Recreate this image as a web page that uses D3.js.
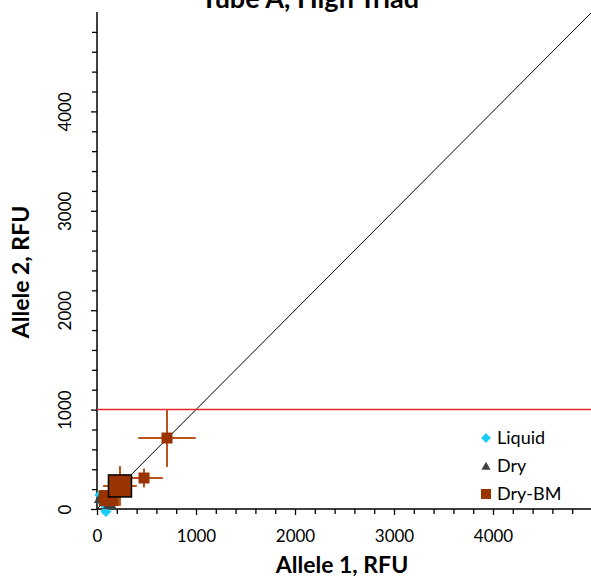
<!DOCTYPE html>
<html><head><meta charset="utf-8">
<script src="https://cdn.jsdelivr.net/npm/d3@7"></script>
<style>body{margin:0;background:#fff}svg{display:block}text{font-family:Lato,"Open Sans",sans-serif}</style>
</head><body>
<script>
// ---- data ----
const title = "Tube A, High Triad";
const xTitle = "Allele 1, RFU";
const yTitle = "Allele 2, RFU";
const majorTicks = [0, 1000, 2000, 3000, 4000];
const minorStep = 200;
const threshold = 1000;
const legendLabels = ["Liquid", "Dry", "Dry-BM"];
// Liquid: [allele1, allele2]
const liquid = [[30, 140], [100, 20], [60, 60], [90, -25]];
// Dry: [allele1, allele2]
const dry = [[20, 90], [150, 25], [110, 30]];
// Dry-BM: [allele1, allele2, err1, err2]
const dryBM = [[707, 714, 290, 290], [475, 312, 190, 95], [120, 110, 0, 0]];
// Dry-BM highlighted means: [allele1, allele2, err1, err2]
const dryBMMean = [[232, 232, 170, 200]];

const W = 591, H = 578;
const svg = d3.select("body").append("svg").attr("width", W).attr("height", H);
const x = d3.scaleLinear().domain([0, 5000]).range([97, 592]);
const y = d3.scaleLinear().domain([0, 5000]).range([509, 12]);
const minor = d3.range(0, 5000, minorStep).filter(v => !majorTicks.includes(v));

// axes
const gx = svg.append("g").attr("transform", `translate(0,${y(0)})`);
gx.append("g").call(d3.axisBottom(x).tickValues(minor).tickSize(5).tickSizeOuter(0).tickFormat(""));
gx.append("g").call(d3.axisBottom(x).tickValues(majorTicks).tickSize(6).tickSizeOuter(0).tickFormat(d3.format("d")));
const gy = svg.append("g").attr("transform", `translate(${x(0)},0)`);
gy.append("g").call(d3.axisLeft(y).tickValues(minor).tickSize(5).tickSizeOuter(0).tickFormat(""));
gy.append("g").call(d3.axisLeft(y).tickValues(majorTicks).tickSize(6).tickSizeOuter(0).tickFormat(d3.format("d")));
svg.selectAll(".domain").remove();
svg.selectAll(".tick line").attr("stroke", "#000").attr("stroke-width", 1.3);
gx.selectAll(".tick text").attr("font-size", 17).attr("fill", "#000").attr("y", 33).attr("dy", 0);
gy.selectAll(".tick text").attr("font-size", 17).attr("fill", "#000")
  .attr("transform", "rotate(-90)").attr("x", 0).attr("dy", 0)
  .attr("y", -26).attr("text-anchor", "middle");
svg.append("line").attr("x1", x(0)).attr("x2", 592).attr("y1", y(0)).attr("y2", y(0)).attr("stroke", "#000").attr("stroke-width", 1.5);
svg.append("line").attr("x1", x(0)).attr("x2", x(0)).attr("y1", y(0)).attr("y2", y(5000)).attr("stroke", "#000").attr("stroke-width", 1.5);

// reference lines
svg.append("line").attr("x1", x(0)).attr("y1", y(0)).attr("x2", x(5000)).attr("y2", y(5000))
  .attr("stroke", "#000").attr("stroke-width", 1);
svg.append("line").attr("x1", x(0)).attr("x2", x(5000)).attr("y1", y(threshold)).attr("y2", y(threshold))
  .attr("stroke", "#E8262A").attr("stroke-width", 1.5);

// markers
const diamond = d3.symbol().type(d3.symbolDiamond2).size(80);
const tri = d3.symbol().type(d3.symbolTriangle2).size(75);
svg.append("g").selectAll("path").data(liquid).join("path")
  .attr("d", diamond).attr("transform", d => `translate(${x(d[0])},${y(d[1])})`).attr("fill", "#19CFF5");
svg.append("g").selectAll("path").data(dry).join("path")
  .attr("d", tri).attr("transform", d => `translate(${x(d[0])},${y(d[1])})`).attr("fill", "#404040");

function errBars(data) {
  const g = svg.append("g").attr("stroke", "#B8531F").attr("stroke-width", 2);
  g.selectAll(".h").data(data.filter(d => d[2] > 0)).join("line").attr("class", "h")
    .attr("x1", d => x(d[0] - d[2])).attr("x2", d => x(d[0] + d[2])).attr("y1", d => y(d[1])).attr("y2", d => y(d[1]));
  g.selectAll(".v").data(data.filter(d => d[3] > 0)).join("line").attr("class", "v")
    .attr("x1", d => x(d[0])).attr("x2", d => x(d[0])).attr("y1", d => y(d[1] - d[3])).attr("y2", d => y(d[1] + d[3]));
}
errBars(dryBMMean);
errBars(dryBM);
const bmColor = "#993300";
svg.append("g").selectAll("rect").data(dryBM.slice(0, 2)).join("rect")
  .attr("x", d => x(d[0]) - 5.5).attr("y", d => y(d[1]) - 5.5).attr("width", 11).attr("height", 11).attr("fill", bmColor);
svg.append("g").selectAll("rect").data(dryBM.slice(2)).join("rect")
  .attr("x", d => x(d[0]) - 10).attr("y", d => y(d[1]) - 8).attr("width", 20).attr("height", 16).attr("fill", bmColor);
svg.append("g").selectAll("rect").data(dryBMMean).join("rect")
  .attr("x", d => x(d[0]) - 11.5).attr("y", d => y(d[1]) - 11).attr("width", 23).attr("height", 22)
  .attr("fill", bmColor).attr("stroke", "#000").attr("stroke-width", 1.5);

// legend
const lg = svg.append("g");
const ly = [438, 466, 494];
lg.append("path").attr("d", d3.symbol().type(d3.symbolDiamond2).size(62)).attr("transform", `translate(486,${ly[0]})`).attr("fill", "#19CFF5");
lg.append("path").attr("d", d3.symbol().type(d3.symbolTriangle2).size(60)).attr("transform", `translate(486,${ly[1] + 1})`).attr("fill", "#404040");
lg.append("rect").attr("x", 481).attr("y", ly[2] - 5).attr("width", 10).attr("height", 10).attr("fill", bmColor);
lg.selectAll("text").data(legendLabels).join("text")
  .attr("x", 497).attr("y", (d, i) => ly[i]).attr("dy", "0.36em").attr("font-size", 18).text(d => d);

// titles
svg.append("text").attr("x", 310).attr("y", 8).attr("text-anchor", "middle")
  .attr("font-size", 27).attr("font-weight", "bold").text(title);
svg.append("text").attr("x", 342).attr("y", 573).attr("text-anchor", "middle")
  .attr("font-size", 23).attr("font-weight", "bold").text(xTitle);
svg.append("text").attr("transform", "translate(29,272) rotate(-90)").attr("text-anchor", "middle")
  .attr("font-size", 23).attr("font-weight", "bold").text(yTitle);
</script>
</body></html>
